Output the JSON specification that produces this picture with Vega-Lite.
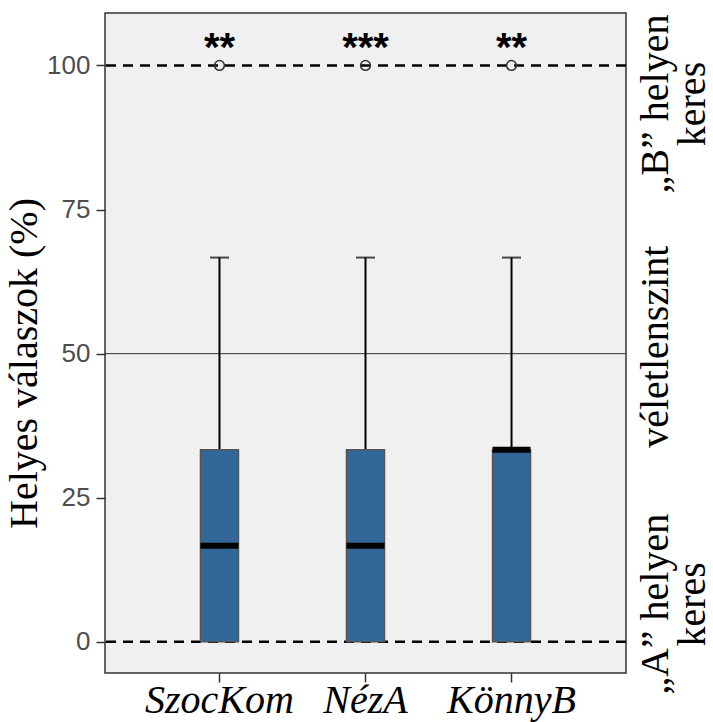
{
  "$schema": "https://vega.github.io/schema/vega-lite/v6.json",
  "width": 521,
  "height": 660,
  "autosize": "none",
  "padding": {"left": 105, "top": 13, "right": 87, "bottom": 49},
  "background": "white",
  "config": {
    "font": "Liberation Serif",
    "view": {"fill": "#f0f0f0", "stroke": "#333333", "strokeWidth": 1.5}
  },
  "datasets": {
    "box": [
      {"group": "SzocKom", "q1": 0, "median": 16.67, "q3": 33.33, "upper": 66.67, "outlier": 100, "stars": "**"},
      {"group": "NézA", "q1": 0, "median": 16.67, "q3": 33.33, "upper": 66.67, "outlier": 100, "stars": "***"},
      {"group": "KönnyB", "q1": 0, "median": 33.33, "q3": 33.33, "upper": 66.67, "outlier": 100, "stars": "**"}
    ],
    "refs": [
      {"y": 0, "kind": "dashed"},
      {"y": 50, "kind": "solid"},
      {"y": 100, "kind": "dashed"}
    ]
  },
  "resolve": {"axis": {"y": "independent"}},
  "layer": [
    {
      "data": {"name": "refs"},
      "transform": [{"filter": "datum.kind == 'dashed'"}],
      "mark": {"type": "rule", "color": "black", "strokeWidth": 2.5, "strokeDash": [10, 7]},
      "encoding": {
        "y": {
          "field": "y", "type": "quantitative",
          "scale": {"domain": [-5.4, 109.1], "nice": false, "zero": false},
          "axis": {
            "orient": "left",
            "values": [0, 25, 50, 75, 100],
            "title": "Helyes válaszok (%)",
            "titleFont": "Liberation Serif", "titleFontSize": 40, "titleFontWeight": "normal", "titleColor": "black", "titlePadding": 2,
            "titleY": 350,
            "labelFont": "Liberation Sans", "labelFontSize": 26, "labelColor": "#4d4d4d", "labelPadding": 6,
            "tickSize": 9, "tickColor": "#333333", "tickWidth": 1.5,
            "domain": false, "grid": false
          }
        }
      }
    },
    {
      "data": {"name": "refs"},
      "transform": [{"filter": "datum.kind == 'solid'"}],
      "mark": {"type": "rule", "color": "#333333", "strokeWidth": 1},
      "encoding": {
        "y": {
          "field": "y", "type": "quantitative",
          "scale": {"domain": [-5.4, 109.1], "nice": false, "zero": false},
          "axis": {
            "orient": "right",
            "values": [6.6, 51.3, 93.4],
            "labelExpr": "datum.value < 20 ? ['„A” helyen', 'keres'] : (datum.value < 70 ? 'véletlenszint' : ['„B” helyen', 'keres'])",
            "title": null,
            "labelAngle": 270, "labelAlign": "center", "labelBaseline": "top",
            "labelFont": "Liberation Serif", "labelFontSize": 40, "labelColor": "black", "labelLineHeight": 37,
            "labelPadding": 9, "labelOverlap": false, "labelLimit": 0,
            "ticks": false, "domain": false, "grid": false
          }
        }
      }
    },
    {
      "data": {"name": "box"},
      "encoding": {
        "x": {
          "field": "group", "type": "nominal",
          "sort": ["SzocKom", "NézA", "KönnyB"],
          "scale": {"type": "band", "paddingInner": 0, "paddingOuter": 0.284},
          "axis": {
            "title": null, "labelAngle": 0,
            "labelFont": "Liberation Serif", "labelFontStyle": "italic", "labelFontSize": 40, "labelColor": "black",
            "labelPadding": -2, "tickSize": 9, "tickColor": "#333333", "tickWidth": 1.5,
            "domain": false, "grid": false
          }
        }
      },
      "layer": [
        {
          "mark": {"type": "rule", "color": "black", "strokeWidth": 2},
          "encoding": {
            "y": {"field": "q3", "type": "quantitative", "scale": {"domain": [-5.4, 109.1], "nice": false, "zero": false}, "axis": null},
            "y2": {"field": "upper"}
          }
        },
        {
          "mark": {"type": "tick", "color": "black", "size": 19, "thickness": 2},
          "encoding": {
            "y": {"field": "upper", "type": "quantitative", "scale": {"domain": [-5.4, 109.1], "nice": false, "zero": false}, "axis": null}
          }
        },
        {
          "mark": {"type": "bar", "width": 38, "fill": "#336699", "stroke": "#555555", "strokeWidth": 1.5},
          "encoding": {
            "y": {"field": "q1", "type": "quantitative", "scale": {"domain": [-5.4, 109.1], "nice": false, "zero": false}, "axis": null},
            "y2": {"field": "q3"}
          }
        },
        {
          "mark": {"type": "tick", "color": "black", "size": 38, "thickness": 6, "opacity": 1},
          "encoding": {
            "y": {"field": "median", "type": "quantitative", "scale": {"domain": [-5.4, 109.1], "nice": false, "zero": false}, "axis": null}
          }
        },
        {
          "mark": {"type": "point", "shape": "circle", "filled": false, "size": 95, "stroke": "#333333", "strokeWidth": 1.5, "opacity": 1},
          "encoding": {
            "y": {"field": "outlier", "type": "quantitative", "scale": {"domain": [-5.4, 109.1], "nice": false, "zero": false}, "axis": null}
          }
        },
        {
          "mark": {"type": "text", "font": "Liberation Sans", "fontWeight": "bold", "fontSize": 40, "baseline": "middle", "color": "black"},
          "encoding": {
            "y": {"datum": 102.8, "type": "quantitative", "scale": {"domain": [-5.4, 109.1], "nice": false, "zero": false}, "axis": null},
            "text": {"field": "stars"}
          }
        }
      ]
    }
  ]
}
